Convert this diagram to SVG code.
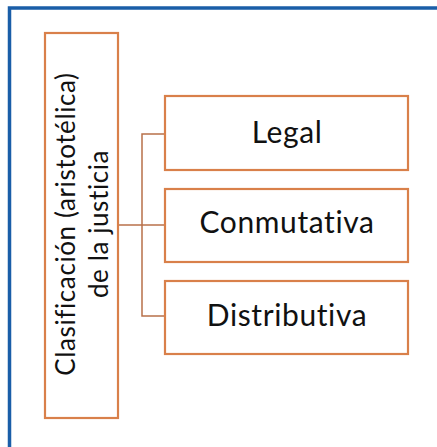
<svg xmlns="http://www.w3.org/2000/svg" width="437" height="447" viewBox="0 0 437 447">
  <style>
    .frame { fill: none; stroke: #1a5ea8; stroke-width: 3.5; }
    .box { fill: #ffffff; stroke: #d9804a; stroke-width: 2.2; }
    .link { fill: none; stroke: #b8704a; stroke-width: 1.5; }
    .lbl { font-family: Lato, "Open Sans", sans-serif; fill: #111111; text-anchor: middle; font-variant-ligatures: none; }
    .main { font-size: 26px; letter-spacing: 0.6px; }
    .item { font-size: 30px; letter-spacing: 0.6px; }
  </style>
  <rect x="0" y="0" width="437" height="447" fill="#ffffff"/>
  <!-- outer frame: only top and left edges fall inside the canvas -->
  <path class="frame" d="M9.5,460 V8 H450"/>

  <g id="connectors">
    <path class="link" d="M118,225 H165"/>
    <path class="link" d="M165,134 H142 V316 H165"/>
  </g>

  <g id="node-clasificacion">
    <rect class="box" x="45" y="33" width="73" height="385"/>
    <text class="lbl main" transform="translate(75,224) rotate(-90)" x="0" y="0">Clasificación (aristotélica)</text>
    <text class="lbl main" transform="translate(108,224) rotate(-90)" x="0" y="0">de la justicia</text>
  </g>

  <g id="node-legal">
    <rect class="box" x="165" y="96" width="243" height="74"/>
    <text class="lbl item" x="287" y="143">Legal</text>
  </g>

  <g id="node-conmutativa">
    <rect class="box" x="165" y="189" width="243" height="73"/>
    <text class="lbl item" x="287" y="233">Conmutativa</text>
  </g>

  <g id="node-distributiva">
    <rect class="box" x="165" y="281" width="243" height="73"/>
    <text class="lbl item" x="287" y="326">Distributiva</text>
  </g>
</svg>
